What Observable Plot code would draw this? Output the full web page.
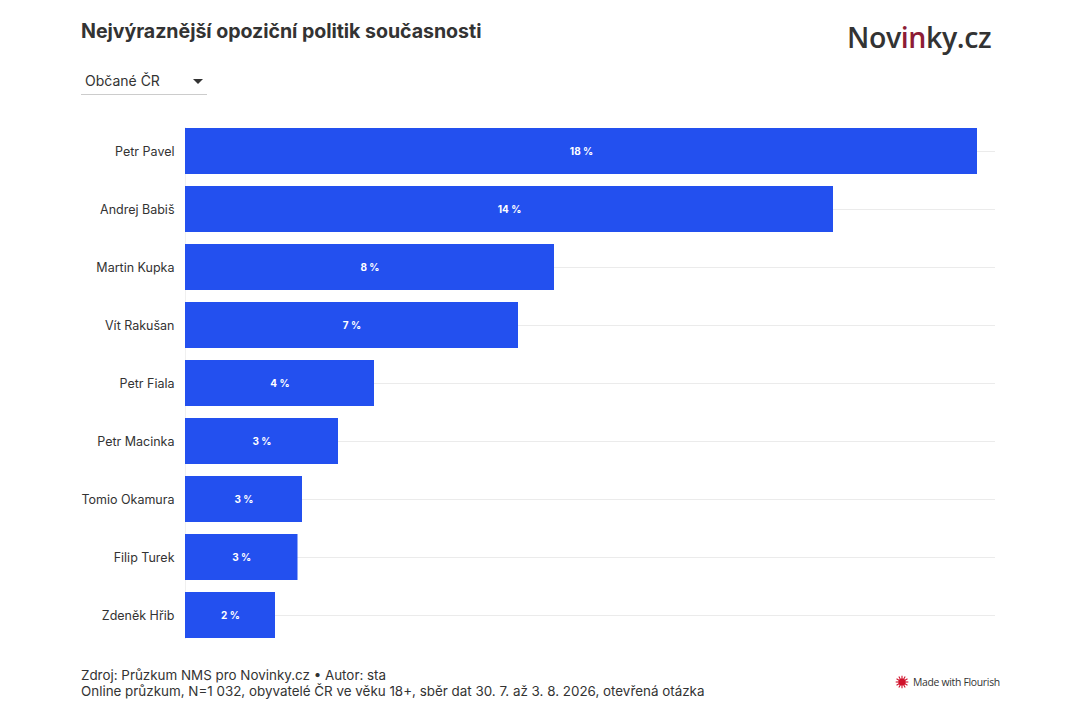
<!DOCTYPE html>
<html>
<head>
<meta charset="utf-8">
<script src="https://cdn.jsdelivr.net/npm/d3@7"></script>
<script src="https://cdn.jsdelivr.net/npm/@observablehq/plot@0.6"></script>
<style>
  html, body { margin: 0; padding: 0; background: #fff; }
  body { width: 1080px; height: 720px; position: relative; font-family: Inter, "Noto Sans", sans-serif; color: #333; overflow: hidden; }
  #title { position: absolute; left: 81px; top: 19px; font-size: 19.6px; font-weight: 700; color: #333; letter-spacing: -0.05px; }
  #logo { position: absolute; left: 847px; top: 18px; font-family: "Open Sans", "Noto Sans", sans-serif; font-size: 28.5px; font-weight: 600; color: #333; letter-spacing: -0.4px; }
  #logo span { color: #8d1c36; }
  #dropdown { position: absolute; left: 81px; top: 70px; width: 126px; height: 24px; border-bottom: 1px solid #ccc; font-size: 14px; }
  #dropdown .txt { position: absolute; left: 4px; top: 2px; color: #333; }
  #dropdown .arrow { position: absolute; left: 112px; top: 9px; width: 0; height: 0; border-left: 5px solid transparent; border-right: 5px solid transparent; border-top: 5px solid #333; }
  #chart { position: absolute; left: 0; top: 109px; }
  #footer { position: absolute; left: 81px; top: 667px; font-size: 13.4px; line-height: 16px; color: #333; }
  #flourish { position: absolute; left: 895px; top: 675px; font-size: 10.4px; color: #333; display: flex; align-items: center; gap: 4px; font-family: "Open Sans", sans-serif; letter-spacing: -0.3px; }
</style>
</head>
<body>
<div id="title">Nejvýraznější opoziční politik současnosti</div>
<div id="logo">Nov<span>in</span>ky.cz</div>
<div id="dropdown"><span class="txt">Občané ČR</span><span class="arrow"></span></div>
<div id="chart"></div>
<div id="footer">Zdroj: Průzkum NMS pro Novinky.cz • Autor: sta<br>Online průzkum, N=1 032, obyvatelé ČR ve věku 18+, sběr dat 30. 7. až 3. 8. 2026, otevřená otázka</div>
<div id="flourish"><svg width="14" height="14" viewBox="-7 -7 14 14"><g fill="#d0112b"><circle r="3.6"/></g><g stroke="#d0112b" stroke-width="1.1" id="rays"></g></svg><span>Made with Flourish</span></div>
<script>
const names = ["Petr Pavel", "Andrej Babiš", "Martin Kupka", "Vít Rakušan", "Petr Fiala", "Petr Macinka", "Tomio Okamura", "Filip Turek", "Zdeněk Hřib"];
const values = [17.6, 14.4, 8.2, 7.4, 4.2, 3.4, 2.6, 2.5, 2.0];

const data = names.map((name, i) => ({name, value: values[i], label: Math.round(values[i]) + " %"}));

// burst icon rays
const rays = document.getElementById("rays");
for (let a = 0; a < 360; a += 30) {
  const r = a * Math.PI / 180;
  const l = document.createElementNS("http://www.w3.org/2000/svg", "line");
  l.setAttribute("x1", (Math.cos(r) * 3).toFixed(2));
  l.setAttribute("y1", (Math.sin(r) * 3).toFixed(2));
  l.setAttribute("x2", (Math.cos(r) * 6.3).toFixed(2));
  l.setAttribute("y2", (Math.sin(r) * 6.3).toFixed(2));
  rays.appendChild(l);
}

const chart = Plot.plot({
  width: 1080,
  height: 545,
  marginLeft: 185,
  marginRight: 85,
  marginTop: 18,
  marginBottom: 15,
  style: {fontFamily: "Inter, 'Noto Sans', sans-serif", color: "#333", background: "transparent"},
  x: {domain: [0, 18], axis: null},
  y: {domain: names, paddingInner: 0.21, paddingOuter: 0, axis: null},
  marks: [
    Plot.ruleY(names, {y: d => d, x1: 0, x2: 18, stroke: "#ebebeb", strokeWidth: 1}),
    Plot.ruleX([0], {stroke: "#f0f0f0"}),
    Plot.barX(data, {y: "name", x: "value", fill: "#2350ef"}),
    Plot.text(data, {y: "name", x: d => d.value / 2, text: "label", fill: "white", fontWeight: 700, fontSize: 10}),
    Plot.axisY({tickSize: 0, tickPadding: 11, fontSize: 12.5, fill: "#333", label: null})
  ]
});
document.getElementById("chart").appendChild(chart);
</script>
</body>
</html>
